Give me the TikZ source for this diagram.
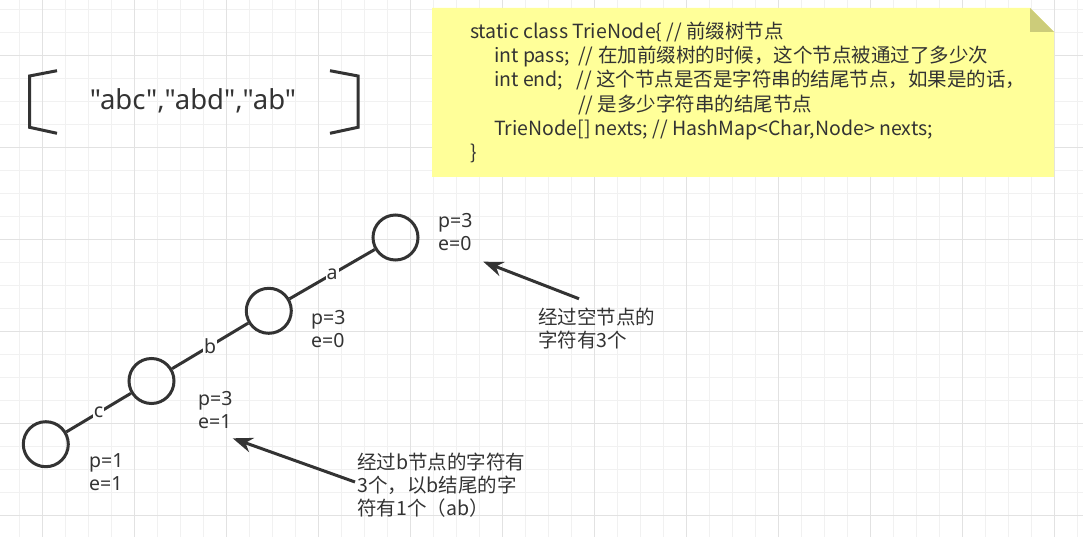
\documentclass[tikz,border=0pt]{standalone}
\usepackage{fontspec}
\setmainfont{Noto Sans CJK SC}
\newfontfamily\latinfont{Noto Sans}
\usetikzlibrary{arrows.meta}
\definecolor{ink}{HTML}{333333}
\definecolor{notefill}{HTML}{FFFF99}
\definecolor{notefold}{HTML}{CCCC7A}
\definecolor{gridminor}{HTML}{F1F1F1}
\definecolor{gridmajor}{HTML}{E2E2E2}
\tikzset{
    trie/.style={
           circle,
           draw=ink, line width=3pt,
           minimum size=45pt,
           inner sep=0pt},
    edgelbl/.style={
           fill=white, text=ink,
           inner sep=1pt,
           font=\latinfont\fontsize{19.5}{22}\selectfont},
    info/.style={
           align=left, text=ink,
           inner sep=0pt,
           font=\fontsize{19.5}{23}\selectfont},
    count/.style={info,
           font=\latinfont\fontsize{19.5}{23}\selectfont},
    trieedge/.style={draw=ink, line width=3pt},
    brk/.style={draw=ink, line width=3pt},
    pointer/.style={draw=ink, line width=3pt,
           -{Stealth[length=20pt,width=15pt]}}
    }

\begin{document}
\begin{tikzpicture}[x=1pt,y=-1pt]
      \useasboundingbox (0,0) rectangle (1083,537);
      % grid
      \foreach \gx in {19.3,42.3,...,1083} \draw[gridminor,line width=1pt] (\gx,0) -- (\gx,537);
      \foreach \gy in {9.3,32.3,...,537} \draw[gridminor,line width=1pt] (0,\gy) -- (1083,\gy);
      \foreach \gx in {42.3,134.3,...,1083} \draw[gridmajor,line width=1pt] (\gx,0) -- (\gx,537);
      \foreach \gy in {55.3,147.3,...,537} \draw[gridmajor,line width=1pt] (0,\gy) -- (1083,\gy);
      % input strings
      \draw[brk] (57,70.7) -- (29.5,76) -- (29.5,127.3) -- (57,133.3);
      \draw[brk] (330,70.7) -- (358,76) -- (358,127.3) -- (330,133.3);
      \node[text=ink,inner sep=0pt,font=\latinfont\fontsize{27.5}{32}\selectfont] (words) at (193,101) {"abc","abd","ab"};
      % note
      \fill[notefill] (432,8) -- (1030,8) -- (1054,32) -- (1054,177) -- (432,177) -- cycle;
      \fill[notefold] (1030,8) -- (1030,32) -- (1054,32) -- cycle;
      \node[info,font=\fontsize{19.5}{24.2}\selectfont,anchor=west] (code) at (470,92.5) {static class TrieNode\{ // 前缀树节点\\
        \hspace*{24pt}int pass;~ // 在加前缀树的时候，这个节点被通过了多少次\\
        \hspace*{24pt}int end;~~ // 这个节点是否是字符串的结尾节点，如果是的话，\\
        \hspace*{108pt}// 是多少字符串的结尾节点\\
        \hspace*{24pt}TrieNode[] nexts; // HashMap<Char,Node> nexts;\\
        \}};
      % trie
      \node[trie] (0) at (395.5,237.5) {};
      \node[trie] (1) at (268.8,310.8) {};
      \node[trie] (2) at (151.5,381) {};
      \node[trie] (3) at (45.8,444.2) {};
      \draw[trieedge] (0) -- node[edgelbl] {a} (1);
      \draw[trieedge] (1) -- node[edgelbl] {b} (2);
      \draw[trieedge] (2) -- node[edgelbl] {c} (3);
      \node[count,anchor=west] (l0) at (438,232) {p=3\\e=0};
      \node[count,anchor=west] (l1) at (311,329.5) {p=3\\e=0};
      \node[count,anchor=west] (l2) at (198,410.5) {p=3\\e=1};
      \node[count,anchor=west] (l3) at (89,472.5) {p=1\\e=1};
      % notes
      \node[info,anchor=west] (t1) at (538,328.5) {经过空节点的\\字符有3个};
      \node[info,anchor=west] (t2) at (357,485) {经过b节点的字符有\\3个，以b结尾的字\\符有1个（ab）};
      \coordinate (tip0) at (483.3,261.7);
      \coordinate (tip1) at (232.7,438.3);
      \draw[pointer] ([shift={(41pt,9pt)}]t1.north west) -- (tip0);
      \draw[pointer] ([xshift=-2pt,yshift=3pt]t2.west) -- (tip1);
\end{tikzpicture}
\end{document}
